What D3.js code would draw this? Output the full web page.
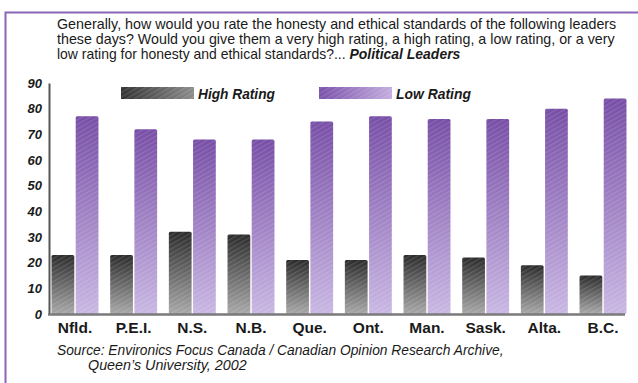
<!DOCTYPE html>
<html>
<head>
<meta charset="utf-8">
<script src="https://cdn.jsdelivr.net/npm/d3@7"></script>
<style>
  html, body { margin: 0; padding: 0; background: #fff; }
  svg { display: block; }
  text { font-family: "Liberation Sans Narrow", "Liberation Sans", Arial, sans-serif; }
</style>
</head>
<body>
<svg id="chart" width="638" height="383"></svg>
<script>
// Provinces and the share of respondents giving each rating
const provinces = ["Nfld.", "P.E.I.", "N.S.", "N.B.", "Que.", "Ont.", "Man.", "Sask.", "Alta.", "B.C."];
const highRating = [23, 23, 32, 31, 21, 21, 23, 22, 19, 15];
const lowRating  = [77, 72, 68, 68, 75, 77, 76, 76, 80, 84];
const yTicks = [0, 10, 20, 30, 40, 50, 60, 70, 80, 90];
const seriesNames = ["High Rating", "Low Rating"];

const titleLines = [
  "Generally, how would you rate the honesty and ethical standards of the following leaders",
  "these days?  Would you give them a very high rating, a high rating, a low rating, or a very",
  "low rating for honesty and ethical standards?... "
];
const titleEmphasis = "Political Leaders";
const sourceLines = [
  "Source:  Environics Focus Canada / Canadian Opinion Research Archive,",
  "Queen\u2019s University, 2002"
];

const svg = d3.select("#chart");
const defs = svg.append("defs");

// widen a condensed text line horizontally so it spans the given width
function fitWidth(sel, x, y, width) {
  const w = sel.node().getBBox().width;
  const s = width / w;
  sel.attr("x", 0).attr("y", 0).attr("transform", `translate(${x},${y}) scale(${s},1)`);
}

// vertical gradients for the bars
function vGrad(id, top, bottom) {
  const g = defs.append("linearGradient").attr("id", id)
    .attr("x1", 0).attr("y1", 0).attr("x2", 0).attr("y2", 1);
  g.append("stop").attr("offset", "0%").attr("stop-color", top);
  g.append("stop").attr("offset", "100%").attr("stop-color", bottom);
}
function hGrad(id, left, right) {
  const g = defs.append("linearGradient").attr("id", id)
    .attr("x1", 0).attr("y1", 0).attr("x2", 1).attr("y2", 0);
  g.append("stop").attr("offset", "0%").attr("stop-color", left);
  g.append("stop").attr("offset", "100%").attr("stop-color", right);
}
vGrad("gHigh", "#2b2b2b", "#a8a8a8");
vGrad("gLow", "#774ea6", "#c9b7e3");
hGrad("lHigh", "#333333", "#8c8c8c");
hGrad("lLow", "#7a51aa", "#c3addf");

// fine diagonal weave laid over the fills
const pat = defs.append("pattern").attr("id", "weave")
  .attr("patternUnits", "userSpaceOnUse").attr("width", 4).attr("height", 4)
  .attr("patternTransform", "rotate(-30)");
pat.append("rect").attr("x", 0).attr("y", 0).attr("width", 4).attr("height", 1.3)
  .attr("fill", "#ffffff").attr("fill-opacity", 0.13);

// frame
svg.append("rect").attr("x", 5.5).attr("y", 12.5).attr("width", 700).attr("height", 500)
  .attr("fill", "none").attr("stroke", "#8a66b8").attr("stroke-width", 2);

// title
const titleEnds = [617, 615, 461];
const title = svg.append("g").attr("font-size", 14).attr("fill", "#1a1a1a");
titleLines.forEach((line, i) => {
  const t = title.append("text").text(line);
  if (i === titleLines.length - 1) {
    t.append("tspan").attr("font-weight", "bold").attr("font-style", "italic").text(titleEmphasis);
  }
  fitWidth(t, 57, 28.5 + i * 15, titleEnds[i] - 57);
});

// scales
const x0 = d3.scaleBand().domain(provinces).range([48, 630]).paddingInner(0.2).paddingOuter(0.06);
const x1 = d3.scaleBand().domain(seriesNames).range([0, x0.bandwidth()]).paddingInner(0.06);
const y = d3.scaleLinear().domain([0, 90]).range([314, 83]);

// y axis
const yAxis = svg.append("g").attr("transform", "translate(49,0)")
  .call(d3.axisLeft(y).tickValues(yTicks).tickSize(0).tickPadding(7));
yAxis.select(".domain").attr("stroke", "#555").attr("stroke-width", 2);
yAxis.selectAll("text").attr("font-size", 13).attr("font-weight", "bold")
  .attr("font-style", "italic").attr("fill", "#1a1a1a")
  .attr("font-family", "'Liberation Sans Narrow', 'Liberation Sans', Arial, sans-serif");

// bars
const groups = svg.append("g").selectAll("g").data(provinces).join("g")
  .attr("transform", d => `translate(${x0(d)},0)`);

const barData = (d, i) => [
  { key: "High Rating", v: highRating[i], fill: "url(#gHigh)" },
  { key: "Low Rating", v: lowRating[i], fill: "url(#gLow)" }
];
groups.each(function (d, i) {
  const g = d3.select(this);
  barData(d, i).forEach(b => {
    g.append("rect").attr("x", x1(b.key)).attr("y", y(b.v))
      .attr("width", x1.bandwidth()).attr("height", y(0) - y(b.v))
      .attr("rx", 1.5).attr("fill", b.fill);
    g.append("rect").attr("x", x1(b.key)).attr("y", y(b.v))
      .attr("width", x1.bandwidth()).attr("height", y(0) - y(b.v))
      .attr("fill", "url(#weave)");
  });
});

// baseline
svg.append("line").attr("x1", 48).attr("x2", 625).attr("y1", y(0) + 0.5).attr("y2", y(0) + 0.5)
  .attr("stroke", "#7a7a7a").attr("stroke-width", 2.5);

// x axis labels
const xAxis = svg.append("g").attr("transform", `translate(0,${y(0)})`)
  .call(d3.axisBottom(x0).tickSize(0).tickPadding(8));
xAxis.select(".domain").remove();
xAxis.selectAll("text").attr("font-size", 15.5).attr("font-weight", "bold").attr("fill", "#1a1a1a")
  .attr("font-family", "'Liberation Sans Narrow', 'Liberation Sans', Arial, sans-serif");

// legend
const legend = svg.append("g");
const legendItems = [
  { name: seriesNames[0], x: 121, w: 77, fill: "url(#lHigh)" },
  { name: seriesNames[1], x: 319, w: 75, fill: "url(#lLow)" }
];
legendItems.forEach(it => {
  legend.append("rect").attr("x", it.x).attr("y", 87).attr("width", 73).attr("height", 12).attr("fill", it.fill);
  legend.append("rect").attr("x", it.x).attr("y", 87).attr("width", 73).attr("height", 12).attr("fill", "url(#weave)");
  const t = legend.append("text").attr("font-size", 15)
    .attr("font-weight", "bold").attr("font-style", "italic").attr("fill", "#1a1a1a").text(it.name);
  fitWidth(t, it.x + 77, 99, it.w);
});

// source note
const src = svg.append("g").attr("font-size", 14).attr("font-style", "italic").attr("fill", "#1a1a1a");
fitWidth(src.append("text").text(sourceLines[0]), 57, 354.5, 447);
fitWidth(src.append("text").text(sourceLines[1]), 88, 369.5, 159);
</script>
</body>
</html>
